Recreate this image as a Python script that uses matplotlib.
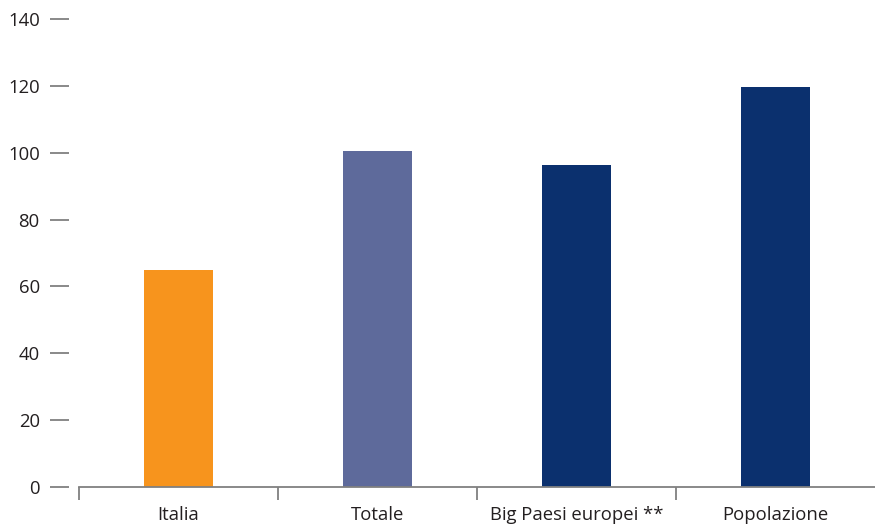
import matplotlib.pyplot as plt
from matplotlib.ticker import FixedLocator

plt.rcParams['font.family'] = ['Open Sans', 'DejaVu Sans']

categories = ['Italia', 'Totale', 'Big Paesi europei **', 'Popolazione']
values = [64.9, 100.5, 96.4, 119.6]
colors = ['#F7941D', '#5E6A9B', '#0B306E', '#0B306E']
y_ticks = [0, 20, 40, 60, 80, 100, 120, 140]

fig = plt.figure(figsize=(8.75, 5.24), dpi=100)
ax = fig.add_axes([79 / 875, 37 / 524, 1 - 79 / 875, 468 / 524])

x = list(range(len(categories)))
ax.bar(x, values, width=0.35, color=colors, zorder=2)

ax.set_xlim(-0.5, len(categories) - 0.5)
ax.set_ylim(0, 140)

for side in ['top', 'right', 'left']:
    ax.spines[side].set_visible(False)
ax.spines['bottom'].set_color('#808080')
ax.spines['bottom'].set_linewidth(1.3)

# y axis: short gray dashes detached from plot area
ax.spines['left'].set_position(('outward', 7.2))
ax.set_yticks(y_ticks)
ax.tick_params(axis='y', length=14, width=1.3, color='#808080', pad=7,
               labelsize=13.3, labelcolor='#231F20')

# x axis: labels centered, separators as minor ticks
ax.set_xticks(x)
ax.set_xticklabels(categories)
ax.tick_params(axis='x', which='major', length=0, pad=14,
               labelsize=13.3, labelcolor='#231F20')
ax.xaxis.set_minor_locator(FixedLocator([i - 0.5 for i in range(len(categories))]))
ax.tick_params(axis='x', which='minor', length=9, width=1.3, color='#808080')

fig.savefig('out.png', dpi=100)
